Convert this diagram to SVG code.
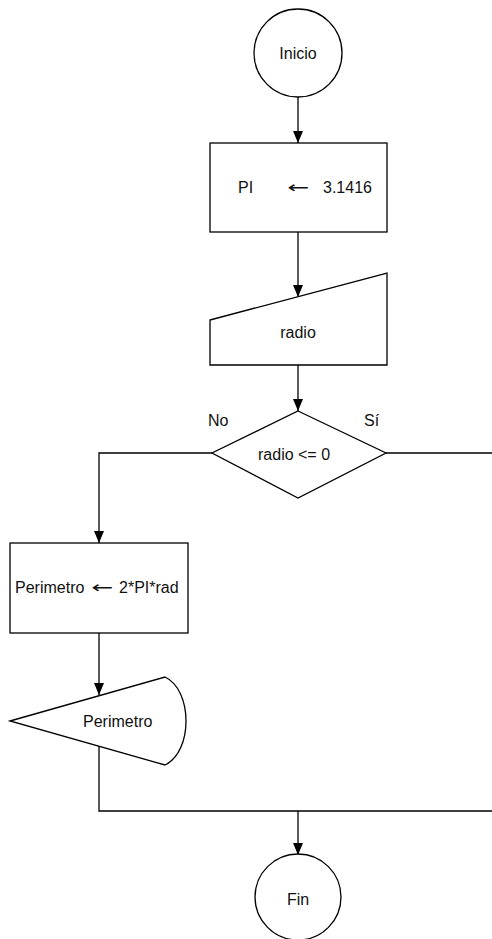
<svg xmlns="http://www.w3.org/2000/svg" width="492" height="939" viewBox="0 0 492 939">
<style>
.s{fill:#fff;stroke:#000;stroke-width:1.3}
.c{fill:none;stroke:#000;stroke-width:1.3}
text{font-family:"Liberation Sans",Arial,sans-serif;font-size:16px;fill:#111}
.m{text-anchor:middle}
</style>
<defs>
<marker id="ah" viewBox="0 0 12 10" refX="12" refY="5" markerWidth="12" markerHeight="10" markerUnits="userSpaceOnUse" orient="auto">
<path d="M0,0 L12,5 L0,10 z" fill="#000"/>
</marker>
</defs>
<rect width="492" height="939" fill="#fff"/>
<g id="connectors">
<path class="c" d="M298,97 V143" marker-end="url(#ah)"/>
<path class="c" d="M298,232 V297" marker-end="url(#ah)"/>
<path class="c" d="M298,365 V411" marker-end="url(#ah)"/>
<path class="c" d="M212,453 H99 V543" marker-end="url(#ah)"/>
<path class="c" d="M386,453 H492"/>
<path class="c" d="M99,633 V695" marker-end="url(#ah)"/>
<path class="c" d="M99,746 V811 H492"/>
<path class="c" d="M298,811 V855" marker-end="url(#ah)"/>
</g>
<g id="inicio">
<circle class="s" cx="298" cy="53" r="44"/>
<text class="m" x="298" y="59">Inicio</text>
</g>
<g id="asignar-pi">
<rect class="s" x="210" y="143" width="177" height="89"/>
<text x="238" y="193">PI</text>
<text x="287" y="193" textLength="22" lengthAdjust="spacingAndGlyphs" style="font-family:'DejaVu Sans',sans-serif">←</text>
<text x="323" y="193">3.1416</text>
</g>
<g id="leer-radio">
<polygon class="s" points="210,320 387,273 387,365 210,365"/>
<text class="m" x="298" y="338">radio</text>
</g>
<g id="decision">
<polygon class="s" points="298,411 386,453 298,498 212,453"/>
<text x="258" y="460">radio &lt;= 0</text>
<text x="208" y="426">No</text>
<text x="364" y="426">Sí</text>
</g>
<g id="calc-perimetro">
<rect class="s" x="10" y="543" width="178" height="90"/>
<text x="15" y="593">Perimetro</text>
<text x="91" y="593" textLength="22" lengthAdjust="spacingAndGlyphs" style="font-family:'DejaVu Sans',sans-serif">←</text>
<text x="119" y="593">2*PI*rad</text>
</g>
<g id="mostrar-perimetro">
<path class="s" d="M10,721 L165,677 C193,690 193,752 165,765 Z"/>
<text x="83" y="727">Perimetro</text>
</g>
<g id="fin">
<circle class="s" cx="298" cy="897" r="43"/>
<text class="m" x="298" y="905">Fin</text>
</g>
</svg>
